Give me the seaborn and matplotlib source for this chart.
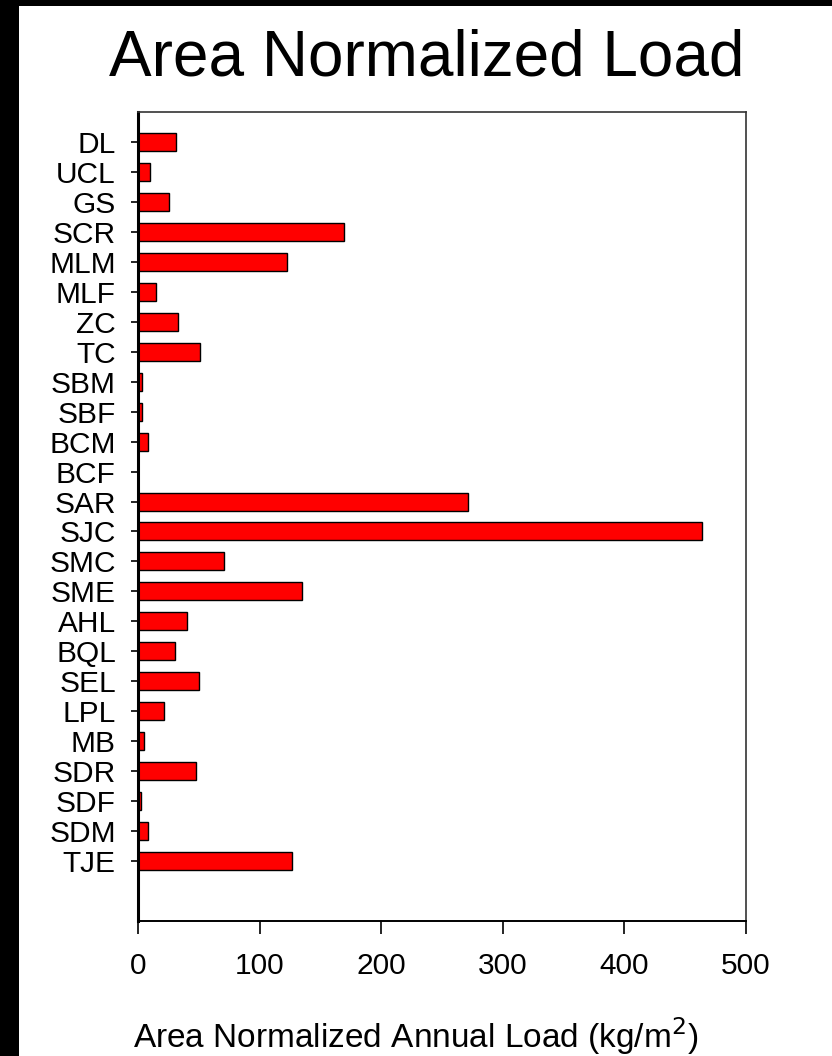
import matplotlib
matplotlib.use("Agg")
import matplotlib.pyplot as plt
from matplotlib.patches import Rectangle
import seaborn as sns
import pandas as pd

categories = ["DL", "UCL", "GS", "SCR", "MLM", "MLF", "ZC", "TC", "SBM", "SBF",
              "BCM", "BCF", "SAR", "SJC", "SMC", "SME", "AHL", "BQL", "SEL", "LPL",
              "MB", "SDR", "SDF", "SDM", "TJE"]
values = [31, 10, 25.2, 169.4, 122.5, 14.8, 32.9, 50.7, 2.9, 2.9,
          8.6, 0, 271, 463.5, 70.5, 135, 40.6, 30.2, 49.9, 21.7,
          4.6, 47.4, 2.7, 8.2, 126.4]
x_ticks = [0, 100, 200, 300, 400, 500]

sns.set_theme(style="white")
plt.rcParams["font.family"] = ["Liberation Sans", "DejaVu Sans"]
plt.rcParams["text.color"] = "black"
plt.rcParams["axes.labelcolor"] = "black"

W, H, DPI = 832, 1056, 100
fig = plt.figure(figsize=(W / DPI, H / DPI), dpi=DPI)
fig.patch.set_facecolor("black")
bg = Rectangle((19 / W, 0), 1 - 19 / W, 1 - 6 / H,
               transform=fig.transFigure, facecolor="white",
               edgecolor="none", zorder=-10)
fig.patches.append(bg)

left, right, top, bottom = 138, 746, 112, 921
ax = fig.add_axes([left / W, 1 - bottom / H, (right - left) / W, (bottom - top) / H])
ax.set_facecolor("white")
ax.set_zorder(1)

df = pd.DataFrame({"site": categories, "load": values})
sns.barplot(data=df, x="load", y="site", orient="h", color="#ff0000",
            saturation=1, edgecolor="black", linewidth=1.0, width=0.6, ax=ax)

ax.set_xlim(0, 500)
ax.set_ylim(26, -1)
ax.set_xticks(x_ticks)
ax.set_xticklabels([str(t) for t in x_ticks])
ax.set_ylabel("")
ax.set_xlabel("Area Normalized Annual Load (kg/m$^2$)", fontsize=24, color="black")
ax.xaxis.set_label_coords(0.457, -0.116)

for s in ax.spines.values():
    s.set_visible(True)
for s in ["top", "right"]:
    ax.spines[s].set_linewidth(1.2)
    ax.spines[s].set_color("#333333")
ax.spines["bottom"].set_linewidth(1.4)
ax.spines["left"].set_linewidth(2.2)
ax.spines["bottom"].set_color("black")
ax.spines["left"].set_color("black")

ax.tick_params(axis="y", which="major", left=True, length=5, width=1.2,
               pad=11, labelsize=21.5, colors="black", direction="out")
ax.tick_params(axis="x", which="major", bottom=True, length=9, width=1.2,
               pad=13, labelsize=21.5, colors="black", direction="out")

fig.text(427 / W, 1 - 76 / H, "Area Normalized Load", fontsize=46,
         ha="center", va="baseline", color="black")

fig.savefig("out.png", dpi=DPI, facecolor=fig.get_facecolor())
